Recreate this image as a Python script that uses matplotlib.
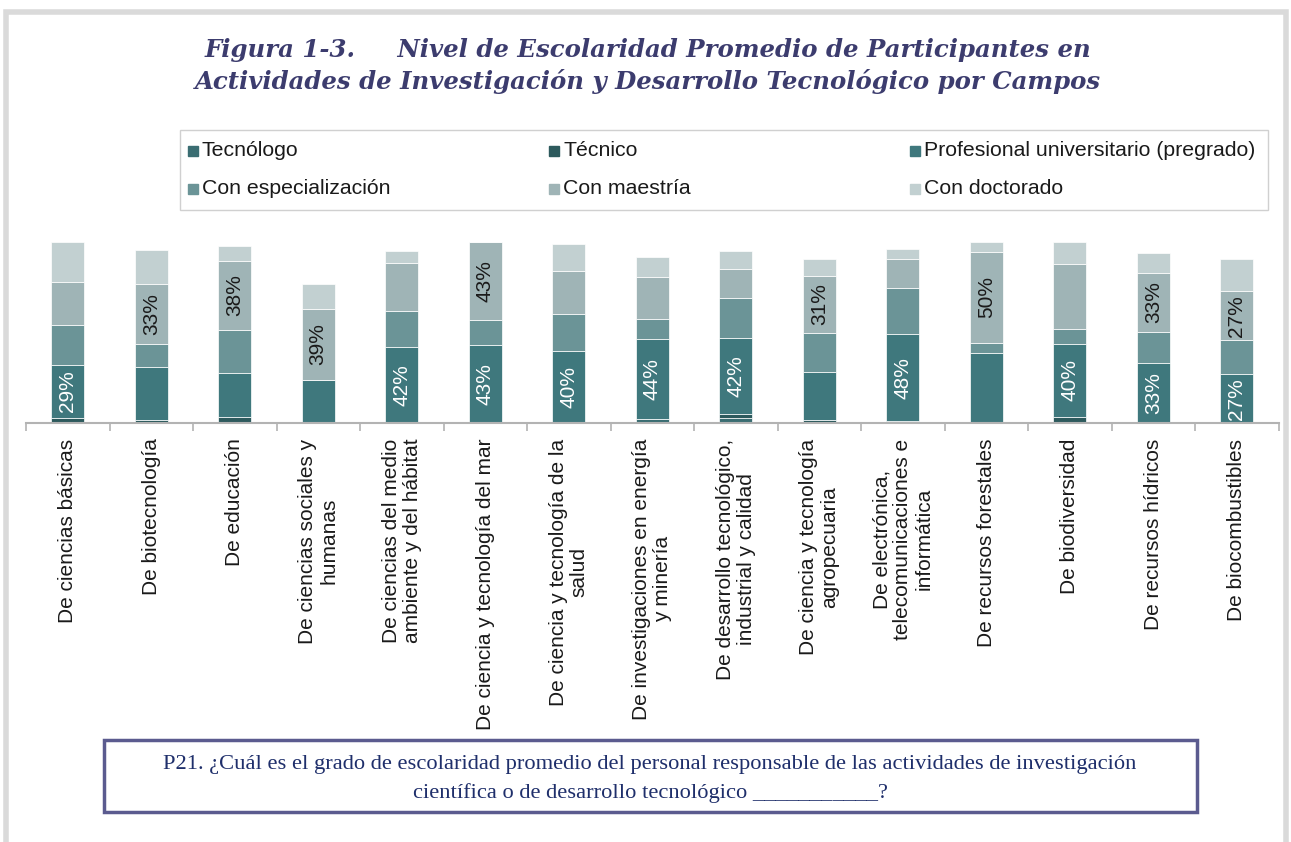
import numpy as np
import matplotlib
matplotlib.use("Agg")
import matplotlib.pyplot as plt
from matplotlib.patches import Rectangle

W, H = 1291, 842

campos = [
    "De ciencias básicas",
    "De biotecnología",
    "De educación",
    "De ciencias sociales y\nhumanas",
    "De ciencias del medio\nambiente y del hábitat",
    "De ciencia y tecnología del mar",
    "De ciencia y tecnología de la\nsalud",
    "De investigaciones en energía\ny minería",
    "De desarrollo tecnológico,\nindustrial y calidad",
    "De ciencia y tecnología\nagropecuaria",
    "De electrónica,\ntelecomunicaciones e\ninformática",
    "De recursos forestales",
    "De biodiversidad",
    "De recursos hídricos",
    "De biocombustibles",
]

series_names = ["Tecnólogo", "Técnico", "Profesional universitario (pregrado)",
                "Con especialización", "Con maestría", "Con doctorado"]
series_colors = ["#3a6d72", "#2d5a5d", "#3f787d", "#6b9497", "#9fb4b6", "#c2d0d1"]

# percentages per campo
tecnologo = [0, 0, 0, 0, 0, 0, 0, 2.4, 2.7, 0, 1.0, 0, 0, 0, 0]
tecnico = [3.0, 1.8, 3.6, 0, 0, 0, 0, 0, 2.4, 1.8, 0, 0, 3.7, 0, 0]
profesional = [29, 29, 24, 24, 42, 43, 40, 44, 42, 26.5, 48, 38.6, 40, 33, 27]
especializacion = [22, 13, 24, 0, 20, 14, 20, 11, 22, 21.6, 25.6, 5.7, 8, 17, 18.7]
maestria = [24, 33, 38, 39, 26, 43, 24, 23, 16, 31, 16, 50, 36, 33, 27]
doctorado = [22, 18.5, 8, 13.5, 7, 0, 15, 11, 10, 9.7, 5.5, 5.5, 12, 10.6, 18]

# which segments carry a data label
prof_labels = [1, 0, 0, 0, 1, 1, 1, 1, 1, 0, 1, 0, 1, 1, 1]
maes_labels = [0, 1, 1, 1, 0, 1, 0, 0, 0, 1, 0, 1, 0, 1, 1]

series = [tecnologo, tecnico, profesional, especializacion, maestria, doctorado]

fig = plt.figure(figsize=(W / 100, H / 100), dpi=100)

def fx(px):
    return px / W

def fy(py):
    return 1 - py / H

# outer gray frame
fig.patches.append(Rectangle((fx(6), fy(870)), fx(1280), 858 / H,
                             transform=fig.transFigure, fill=False,
                             edgecolor="#dadada", linewidth=4))

# title
title_kw = dict(ha="center", va="center", fontsize=17.6, family="DejaVu Serif",
                style="italic", weight="bold", color="#3c3c6e")
fig.text(fx(648), fy(50), "Figura 1-3.     Nivel de Escolaridad Promedio de Participantes en", **title_kw)
fig.text(fx(648), fy(82), "Actividades de Investigación y Desarrollo Tecnológico por Campos", **title_kw)

# chart
base_py, full_py = 423.3, 181.6
top = 103
ax = fig.add_axes([fx(26), fy(base_py), fx(1252.5), full_py * top / 100 / H])
x = np.arange(len(campos))
bottom = np.zeros(len(campos))
bars = []
for vals, col in zip(series, series_colors):
    vals = np.array(vals, dtype=float)
    ax.bar(x, vals, width=0.395, bottom=bottom, color=col,
           edgecolor="white", linewidth=0.5)
    bars.append((vals, bottom.copy()))
    bottom += vals

for flags, idx, tcol in [(prof_labels, 2, "white"), (maes_labels, 4, "#1a1a1a")]:
    vals, bot = bars[idx]
    for i, f in enumerate(flags):
        if f:
            ax.text(x[i], bot[i] + vals[i] / 2, f"{round(vals[i])}%", rotation=90,
                    ha="center", va="center", fontsize=15, color=tcol,
                    family="Liberation Sans")

ax.set_xlim(-0.5, len(campos) - 0.5)
ax.set_ylim(0, top)
for s in ["left", "right", "top"]:
    ax.spines[s].set_visible(False)
ax.spines["bottom"].set_color("#b3b3b3")
ax.spines["bottom"].set_linewidth(1.5)
ax.set_yticks([])
ax.set_xticks(x)
ax.set_xticklabels(campos)
ax.set_xticks(np.arange(-0.5, len(campos)), minor=True)
ax.tick_params(axis="x", which="major", length=0, pad=11)
ax.tick_params(axis="x", which="minor", length=6, color="#b3b3b3", width=1.2)
plt.setp(ax.get_xticklabels(), rotation=90, ha="center", va="top",
         multialignment="center", fontsize=15, family="Liberation Sans",
         color="#1a1a1a", linespacing=1.15)

# legend (drawn by hand to keep the fixed column grid)
fig.patches.append(Rectangle((fx(180), fy(210)), fx(1088), 80 / H,
                             transform=fig.transFigure, fill=False,
                             edgecolor="#d0d0d0", linewidth=1))
col_x = [188, 549, 910]
row_y = [151, 189]
for k, (name, col) in enumerate(zip(series_names, series_colors)):
    px = col_x[k % 3]
    py = row_y[k // 3]
    fig.patches.append(Rectangle((fx(px), fy(py + 5)), fx(10), 10 / H,
                                 transform=fig.transFigure, color=col))
    fig.text(fx(px + 14), fy(py), name, ha="left", va="center", fontsize=15.3,
             family="Liberation Sans", color="#1a1a1a")

# question box
fig.patches.append(Rectangle((fx(104), fy(812)), fx(1093), 72 / H,
                             transform=fig.transFigure, facecolor="white",
                             edgecolor="#5b5b8f", linewidth=2.5, zorder=5))
q_kw = dict(ha="center", va="center", fontsize=16.2, family="Liberation Serif",
            color="#1f2f6b", zorder=6)
fig.text(fx(650), fy(765), "P21. ¿Cuál es el grado de escolaridad promedio del personal responsable de las actividades de investigación", **q_kw)
fig.text(fx(650), fy(793), "científica o de desarrollo tecnológico ___________?", **q_kw)

fig.savefig("out.png", dpi=100, facecolor="white")
